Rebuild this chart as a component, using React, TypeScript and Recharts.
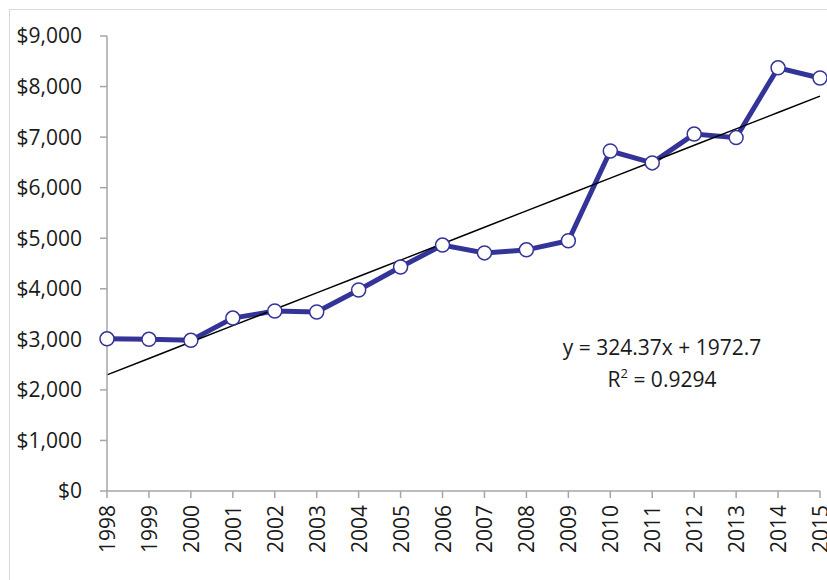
import React from 'react';
import { LineChart, Line, XAxis, YAxis } from 'recharts';

const years = ['1998', '1999', '2000', '2001', '2002', '2003', '2004', '2005', '2006', '2007', '2008', '2009', '2010', '2011', '2012', '2013', '2014', '2015'];
const amounts = [3010, 3000, 2980, 3420, 3560, 3540, 3975, 4430, 4865, 4710, 4770, 4950, 6725, 6490, 7060, 6990, 8370, 8170];
const yTicks = [0, 1000, 2000, 3000, 4000, 5000, 6000, 7000, 8000, 9000];
const trendSlope = 324.37;
const trendIntercept = 1972.7;

const chartData = years.map((year, i) => ({
    year,
    amount: amounts[i],
    trend: trendSlope * (i + 1) + trendIntercept,
}));

const FONT = '"Open Sans", "Noto Sans", sans-serif';
const LINE_COLOR = '#343498';
const AXIS_COLOR = '#a6a6a6';

const XTick = (props: any) => {
    const { x, y, payload } = props;
    return (
        <text
            x={x}
            y={y}
            transform={`rotate(-90 ${x} ${y})`}
            textAnchor="end"
            dominantBaseline="central"
            fill="#1a1a1a"
            fontSize={21}
            fontFamily={FONT}
        >
            {payload.value}
        </text>
    );
};

const formatDollar = (v: number) => '$' + v.toLocaleString('en-US');

export default function App() {
    return (
        <div
            style={{
                position: 'fixed',
                left: 9,
                top: 9,
                width: 850,
                height: 600,
                border: '1px solid #d9d9d9',
                background: '#fff',
                fontFamily: FONT,
            }}
        >
            <LineChart
                width={850}
                height={600}
                data={chartData}
                margin={{ top: 26, right: 40, bottom: 29, left: 0 }}
            >
                <XAxis
                    dataKey="year"
                    interval={0}
                    height={90}
                    stroke={AXIS_COLOR}
                    strokeWidth={1.5}
                    tickSize={7}
                    tickMargin={7}
                    tick={<XTick />}
                />
                <YAxis
                    width={97}
                    domain={[0, 9000]}
                    ticks={yTicks}
                    interval={0}
                    tickFormatter={formatDollar}
                    stroke={AXIS_COLOR}
                    strokeWidth={1.5}
                    tickSize={7}
                    tickMargin={18}
                    tick={{ fill: '#1a1a1a', fontSize: 21, fontFamily: FONT }}
                />
                <Line
                    dataKey="amount"
                    stroke={LINE_COLOR}
                    strokeWidth={5}
                    dot={{ r: 7, fill: '#fff', stroke: LINE_COLOR, strokeWidth: 1.5 }}
                    isAnimationActive={false}
                />
                <Line
                    dataKey="trend"
                    stroke="#000"
                    strokeWidth={1.5}
                    dot={false}
                    activeDot={false}
                    isAnimationActive={false}
                />
            </LineChart>
            <div
                style={{
                    position: 'absolute',
                    left: 522,
                    top: 321,
                    width: 260,
                    textAlign: 'center',
                    fontSize: 21,
                    lineHeight: '32px',
                    color: '#1a1a1a',
                }}
            >
                <div>y = 324.37x + 1972.7</div>
                <div>
                    R<sup style={{ fontSize: 13, verticalAlign: 'top', lineHeight: '20px' }}>2</sup> = 0.9294
                </div>
            </div>
        </div>
    );
}
